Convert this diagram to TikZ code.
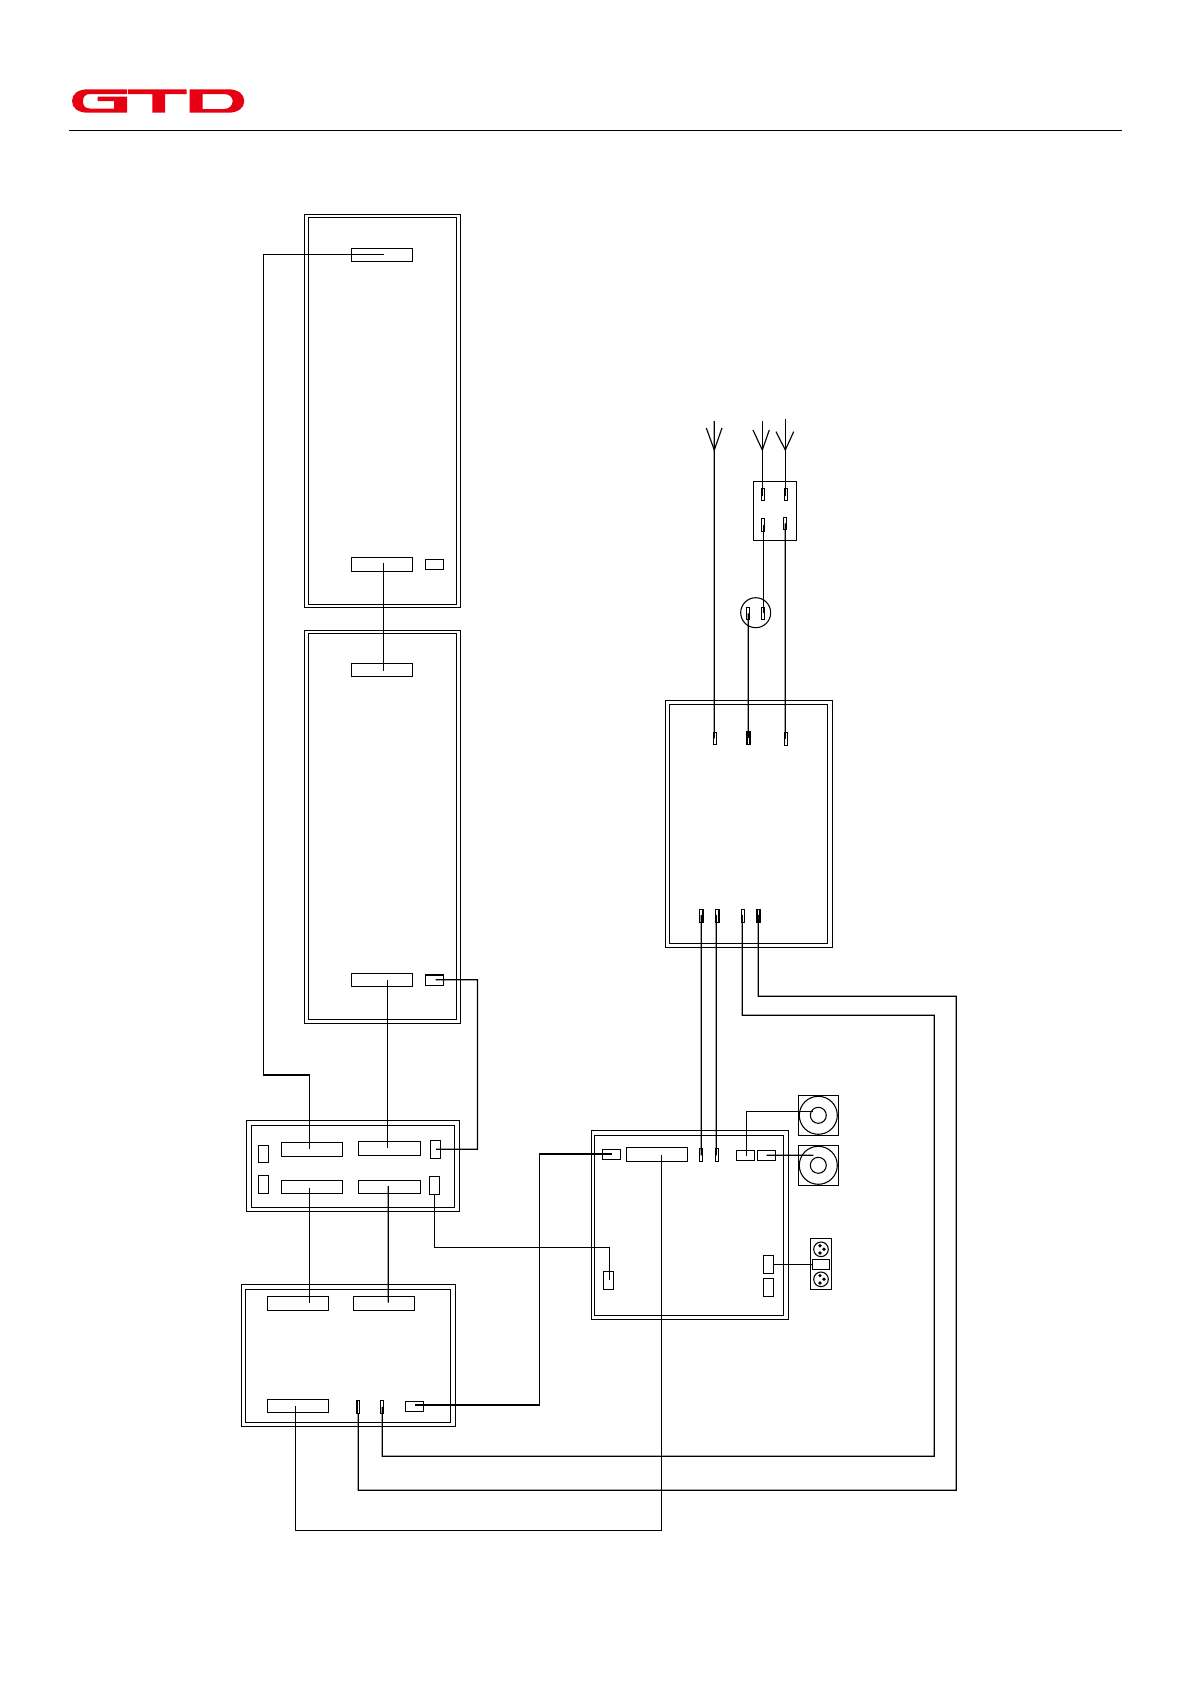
\documentclass[tikz,border=0pt]{standalone}
\usetikzlibrary{calc}
\definecolor{gtdred}{HTML}{E60012}
\tikzset{
  frame/.style={draw=black,line width=0.95pt,fill=none,rectangle,inner sep=0pt,outer sep=0pt},
  port/.style={draw=black,line width=0.95pt,rectangle,inner sep=0pt,outer sep=0pt},
  ring/.style={draw=black,line width=0.8pt,circle,inner sep=0pt,outer sep=0pt},
  wire/.style={draw=black,line width=0.95pt,line join=miter},
  fork/.style={draw=black,line width=0.85pt}
}
\newcommand{\boxat}[6]{%
  \pgfmathsetmacro\bw{(#5-#3)*0.75}\pgfmathsetmacro\bh{(#6-#4)*0.75}%
  \pgfmathsetmacro\bx{(#3+#5)/2}\pgfmathsetmacro\by{(#4+#6)/2}%
  \node[#2,minimum width=\bw pt,minimum height=\bh pt] (#1) at (\bx,\by) {};}
\newcommand{\ringat}[4]{%
  \pgfmathsetmacro\bd{2*#4*0.75}%
  \node[ring,minimum size=\bd pt] (#1) at (#2,#3) {};}
\begin{document}
\begin{tikzpicture}[x=0.75pt,y=-0.75pt]
\useasboundingbox (0,0) rectangle (1192,1685);

% logo
\fill[gtdred] (127,89.3) -- (88,89.3) .. controls (78,89.3) and (72,94) .. (72,101)
  .. controls (72,108) and (78,112.7) .. (88,112.7) -- (127,112.7) -- (127,96.7) -- (97.7,96.7)
  -- (97.7,101) -- (114,101) -- (114,108.5) -- (90,108.5) .. controls (85,108.5) and (83,105.5) .. (83,101.5)
  .. controls (83,97) and (85,94) .. (90,94) -- (127,94) -- cycle;
\fill[gtdred] (128,89.3) -- (186.7,89.3) -- (186.7,94) -- (165,94) -- (165,112.7) -- (152.3,112.7) -- (152.3,94) -- (128,94) -- cycle;
\fill[gtdred,even odd rule] (189.7,89.3) -- (228,89.3) .. controls (238,89.3) and (244.3,94) .. (244.3,101)
  .. controls (244.3,108) and (238,112.7) .. (228,112.7) -- (189.7,112.7) -- cycle
  (202.7,94) -- (224,94) .. controls (229,94) and (232.7,97) .. (232.7,101)
  .. controls (232.7,105.5) and (229,109) .. (224,109) -- (202.7,109) -- cycle;
\coordinate (ruleL) at (69,130.3);
\coordinate (ruleR) at (1122,130.3);
\draw[line width=1pt] (ruleL) -- (ruleR);

% cabinet 1
\boxat{cabAo}{frame}{304.5}{214.5}{460.5}{607.3}
\boxat{cabAi}{frame}{308.3}{217.7}{456.5}{604.3}
\boxat{cAtop}{port}{351.3}{248.3}{412.5}{261.3}
\boxat{cAbot}{port}{351.3}{557.3}{412.7}{571.3}
\boxat{cAsm}{port}{425.3}{559.3}{443.7}{569.7}
% cabinet 2
\boxat{cabBo}{frame}{304.5}{630.3}{460.5}{1023.7}
\boxat{cabBi}{frame}{308.3}{633.3}{456.5}{1019.7}
\boxat{cBtop}{port}{351.3}{663.3}{412.7}{676.3}
\boxat{cBbot}{port}{351.3}{973.3}{412.7}{986.3}
\boxat{cBsm}{port}{425.3}{975}{443.3}{985.3}
% distribution box
\boxat{distO}{frame}{246.3}{1120.3}{459.3}{1211.3}
\boxat{distI}{frame}{251.3}{1125.3}{454.3}{1207.3}
\boxat{dL1}{port}{258.3}{1145.3}{268.3}{1162.3}
\boxat{dL2}{port}{258.3}{1175.3}{268.3}{1193.3}
\boxat{dA}{port}{281.3}{1142.3}{342.3}{1156.3}
\boxat{dB}{port}{358.3}{1141.3}{420.3}{1155.3}
\boxat{dC}{port}{281.3}{1180.3}{342.3}{1193.3}
\boxat{dD}{port}{358.3}{1180.3}{420.7}{1193.3}
\boxat{dR1}{port}{430.3}{1140.3}{440.3}{1158.3}
\boxat{dR2}{port}{429.3}{1176.3}{439.7}{1194.3}
% lower box
\boxat{lowO}{frame}{241.3}{1284.3}{455.7}{1426.3}
\boxat{lowI}{frame}{245.3}{1289.3}{450.7}{1422.3}
\boxat{lE}{port}{267.3}{1296.3}{328.3}{1310.3}
\boxat{lF}{port}{353.3}{1296.3}{414.3}{1310.3}
\boxat{lG}{port}{267.3}{1399.3}{328.3}{1412.3}
\boxat{lH}{port}{357}{1400.3}{359.7}{1413.7}
\boxat{lI}{port}{380.3}{1400.3}{383.7}{1413.3}
\boxat{lJ}{port}{405.3}{1401.3}{423.7}{1411.3}
% central box
\boxat{cenO}{frame}{591.3}{1130.7}{788.7}{1319.3}
\boxat{cenI}{frame}{594.3}{1135.3}{783.3}{1315.7}
\boxat{nK}{port}{602.3}{1149.3}{620.7}{1159.3}
\boxat{nL}{port}{626.3}{1147.3}{687.7}{1161.3}
\boxat{nM}{port}{699.3}{1148.3}{702.3}{1161.3}
\boxat{nN}{port}{715.3}{1148.3}{718.3}{1161.3}
\boxat{nO}{port}{736.3}{1150.3}{754.3}{1160.3}
\boxat{nP}{port}{757.3}{1150.3}{775.7}{1160.7}
\boxat{nQ}{port}{763.3}{1255.3}{773.3}{1273.3}
\boxat{nR}{port}{763.3}{1278.3}{773.3}{1296.3}
\boxat{nS}{port}{603.3}{1271.3}{613.3}{1289.3}
% speakers
\boxat{spkA}{frame}{798.3}{1095.3}{838.3}{1135.3}
\ringat{spkAo}{818.3}{1115.3}{19}
\ringat{spkAi}{818.3}{1115.3}{8}
\boxat{spkB}{frame}{798.3}{1145.3}{838.3}{1185.3}
\ringat{spkBo}{818.3}{1165.3}{19}
\ringat{spkBi}{818.3}{1165.3}{8}
% xlr
\boxat{xlr}{frame}{810.3}{1238.3}{831.7}{1289.3}
\boxat{xlrP}{port}{812.3}{1259.3}{829.7}{1269.3}
\ringat{xlrA}{821}{1249.3}{7.3}
\ringat{xlrB}{821}{1279.3}{7.3}
\ringat{pA1}{820}{1245.7}{1.1}
\ringat{pA2}{824}{1249.3}{1.1}
\ringat{pA3}{820}{1253}{1.1}
\ringat{pB1}{820}{1275.6}{1.1}
\ringat{pB2}{824}{1279.3}{1.1}
\ringat{pB3}{820}{1283}{1.1}
% power box
\boxat{pwrO}{frame}{665.3}{700.3}{832.7}{947.3}
\boxat{pwrI}{frame}{669.3}{704.3}{827.7}{943.3}
\boxat{uA}{port}{713.3}{732.3}{716.7}{744.3}
\boxat{uB}{port}{747}{731.3}{750}{744.3}
\boxat{uC}{port}{784.3}{732.3}{787.7}{745.3}
\boxat{vA}{port}{699.3}{909.3}{703}{922.3}
\boxat{vB}{port}{715.3}{909.3}{719}{922.3}
\boxat{vC}{port}{741.3}{909.3}{744.7}{922.3}
\boxat{vD}{port}{757}{909.3}{760}{922.3}
% fuse box and outlet
\boxat{fuse}{frame}{753.3}{481.3}{796.3}{540.3}
\boxat{fA}{port}{761.3}{488.3}{764.3}{500.3}
\boxat{fB}{port}{784.3}{488.3}{787.3}{500.3}
\boxat{fC}{port}{761.3}{518.3}{764.7}{531.3}
\boxat{fD}{port}{783.3}{517.3}{786.7}{529.3}
\ringat{outlet}{755.7}{612.7}{15}
\boxat{oA}{port}{746.3}{607.3}{749.3}{619.3}
\boxat{oB}{port}{761.3}{607.3}{764.7}{619.3}

% antenna forks
\coordinate (inA) at (714.3,421);
\coordinate (inB) at (762.3,421);
\coordinate (inC) at (785.3,419);
\coordinate (tipA) at (714.3,450);
\coordinate (tipB) at (762.3,450);
\coordinate (tipC) at (785.3,450);
\coordinate (armAl) at (706.3,428);
\coordinate (armAr) at (722,428);
\coordinate (armBl) at (753,430);
\coordinate (armBr) at (769.3,430);
\coordinate (armCl) at (776,431.7);
\coordinate (armCr) at (793.7,431.7);
\draw[fork] (armAl) -- (tipA) -- (armAr);
\draw[fork] (armBl) -- (tipB) -- (armBr);
\draw[fork] (armCl) -- (tipC) -- (armCr);

% wires
\draw[wire] (inA) -- ($(uA)+(-0.7,0)$);
\draw[wire] (inB) -- ($(fA)+(-0.5,2)$);
\draw[wire] (inC) -- ($(fB)+(-0.5,2)$);
\draw[wire] ($(fC)+(0.3,0)$) -- ($(oB)+(0.3,0)$);
\draw[wire] ($(fD)+(0.3,0)$) -- ($(uC)+(-0.7,0)$);
\draw[wire] ($(oA)+(0.5,0)$) -- ($(uB)+(-0.2,0)$);
\draw[wire] ($(cAtop)+(1.8,-0.5)$) -- (263.3,254.3) -- (263.3,1075) -- (309.3,1075) -- ($(dA)+(-2.5,0)$);
\draw[wire] ($(cAbot)+(1.3,-1)$) -- ($(cBtop)+(1.3,1)$);
\draw[wire] ($(cBbot)+(5.3,0)$) -- ($(dB)+(-2,-0.6)$);
\draw[wire] ($(cBsm)+(1.4,-0.5)$) -- (477.5,979.7) -- (477.5,1149.3) -- ($(dR1)+(0.7,0)$);
\draw[wire] ($(dC)+(-2.5,1.5)$) -- ($(lE)+(11.5,0)$);
\draw[wire] ($(dD)+(-1.2,-0.8)$) -- ($(lF)+(4.5,-0.6)$);
\draw[wire] (dR2) -- (434.5,1247.3) -- (609.3,1247.3) -- ($(nS)+(1,0)$);
\draw[wire] ($(lJ)+(0.5,-1.3)$) -- (539.6,1405) -- (539.6,1154) -- ($(nK)+(0.8,-0.3)$);
\draw[wire] ($(lG)+(-2.5,0.2)$) -- (295.3,1530.3) -- (661.3,1530.3) -- ($(nL)+(4.3,1)$);
\draw[wire] (lH) -- (358.3,1490.3) -- (956.3,1490.3) -- (956.3,996.3) -- (758.3,996.3) -- ($(vD)+(-0.2,-0.8)$);
\draw[wire] ($(lI)+(0.3,0)$) -- (382.3,1456.3) -- (934.3,1456.3) -- (934.3,1015.3) -- (742.3,1015.3) -- ($(vC)+(-0.7,-0.8)$);
\draw[wire] ($(vA)+(0.1,-0.8)$) -- ($(nM)+(0.5,0.5)$);
\draw[wire] ($(vB)+(-0.9,-0.8)$) -- ($(nN)+(-0.5,0.5)$);
\draw[wire] ($(nO)+(1,1)$) -- (746.3,1111.7) -- ($(spkAi)+(-5,-3.6)$);
\draw[wire] ($(nP)+(0.2,-0.2)$) -- ($(spkBi)+(-5,-10)$);
\draw[wire] (nQ) -- (xlrP);
\end{tikzpicture}
\end{document}
